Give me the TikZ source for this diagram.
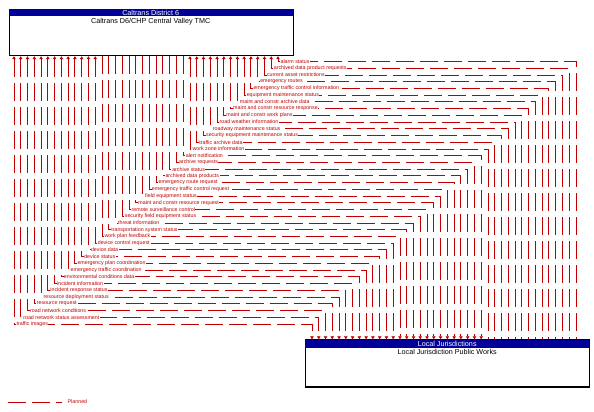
\documentclass[tikz,border=0pt]{standalone}
\usepackage{fontspec}
\setmainfont{Liberation Sans}
\usetikzlibrary{arrows.meta}
\definecolor{planned}{RGB}{192,0,0}
\definecolor{hdrblue}{RGB}{0,0,153}

\begin{document}
\begin{tikzpicture}[x=1pt,y=-1pt]
\tikzstyle{sysbox}=[draw=black, line width=1.2pt, anchor=north west, inner sep=0pt]
\tikzstyle{hdr}=[fill=hdrblue, text=white, anchor=north west, inner sep=0pt, font=\fontsize{7.2}{8}\selectfont]
\tikzstyle{sysname}=[anchor=north, inner sep=0pt, font=\fontsize{7.2}{8}\selectfont]
\tikzstyle{flow}=[draw=planned, line width=0.9pt, dash pattern=on 18pt off 6pt]
\tikzstyle{lbl}=[anchor=west, text=planned, fill=white, inner sep=0.4pt, font=\fontsize{5.3}{6}\selectfont]
\tikzstyle{toTMC}=[{Triangle[length=3pt,width=3.5pt]}-]
\tikzstyle{toLocal}=[-{Triangle[length=3pt,width=3.5pt]}]
\tikzstyle{twoway}=[{Triangle[length=3pt,width=3.5pt]}-{Triangle[length=3pt,width=3.5pt]}]
\useasboundingbox (0,0) rectangle (594,412);

\node[sysbox, minimum width=284pt, minimum height=46pt] (tmc) at (8.5,9) {};
\node[hdr, minimum width=284pt, minimum height=7pt] (tmchdr) at (tmc.north west) {Caltrans District 6};
\node[sysname] (tmcname) at ([yshift=-1.5pt]tmchdr.south) {Caltrans D6/CHP Central Valley TMC};

\node[sysbox, minimum width=284pt, minimum height=47pt] (local) at (305,339.3) {};
\node[hdr, minimum width=284pt, minimum height=8pt] (localhdr) at (local.north west) {Local Jurisdictions};
\node[sysname] (localname) at ([yshift=-1.5pt]localhdr.south) {Local Jurisdiction Public Works};

\foreach \txt [count=\i] in {alarm status, archived data product requests, current asset restrictions,
	emergency routes, emergency traffic control information, equipment maintenance status,
	maint and constr archive data, maint and constr resource response, maint and constr work plans,
	road weather information, roadway maintenance status, security equipment maintenance status,
	traffic archive data, work zone information, alert notification, archive requests,
	archive status, archived data products, emergency route request,
	emergency traffic control request, field equipment status, maint and constr resource request,
	remote surveillance control, security field equipment status, threat information,
	transportation system status, work plan feedback, device control request, device data,
	device status, emergency plan coordination, emergency traffic coordination,
	environmental conditions data, incident information, incident response status,
	resource deployment status, resource request, road network conditions,
	road network status assessment, traffic images}{
	\pgfmathsetmacro{\xa}{278-(\i-1)*6.77}
	\pgfmathsetmacro{\ya}{61.5+(\i-1)*6.73}
	\pgfmathsetmacro{\xb}{576-(\i-1)*6.77}
	\ifnum\i<15 \def\dir{toTMC}\else\ifnum\i<28 \def\dir{toLocal}\else\def\dir{twoway}\fi\fi
	\coordinate (b\i) at (\xa,\ya);
	\coordinate (c\i) at (\xb,\ya);
	\draw[flow,\dir] (b\i |- tmc.south) -- (b\i) -- (c\i) -- (c\i |- local.north);
	\node[lbl] (f\i) at ([xshift=2pt]b\i) {\txt};
}

\coordinate (legstart) at (8,402);
\node[lbl, fill=none, inner sep=0pt] (legend) at (67.5,402) {Planned};
\draw[flow] (legstart) -- ([xshift=-5.5pt]legend.west);
\end{tikzpicture}
\end{document}
